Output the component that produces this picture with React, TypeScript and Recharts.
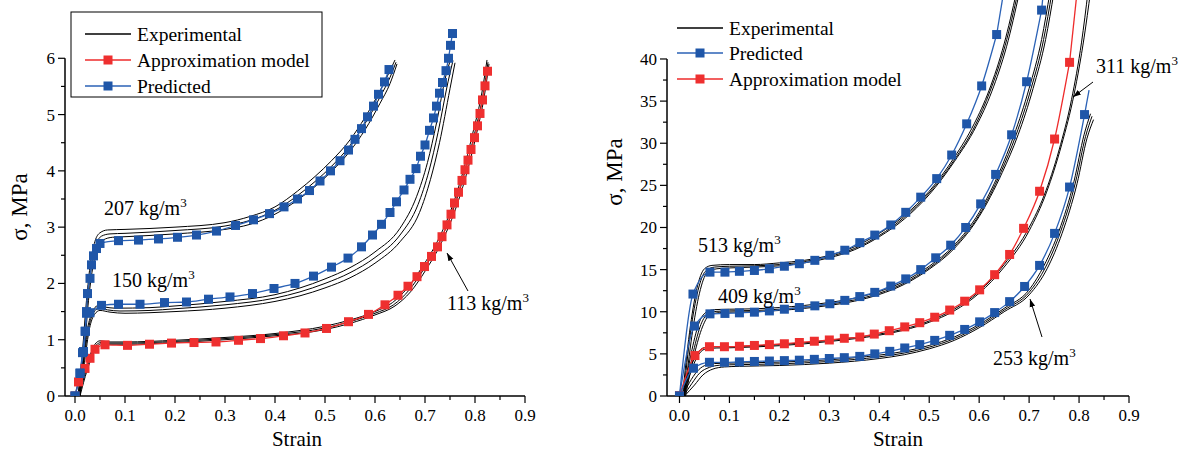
import React from "react";
import { LineChart, Line, XAxis, YAxis, ReferenceLine } from "recharts";

type P = [number, number];

// ---------- left panel: strain vs stress, low densities ----------
const pred207: P[] = [
  [0, 0], [0.01, 0.41], [0.017, 0.79], [0.021, 1.15], [0.023, 1.5], [0.025, 1.82], [0.03, 2.09],
  [0.033, 2.33], [0.037, 2.49], [0.043, 2.62], [0.05, 2.71], [0.087, 2.76], [0.127, 2.77], [0.167, 2.79],
  [0.205, 2.82], [0.243, 2.86], [0.283, 2.93], [0.321, 3.03], [0.357, 3.13], [0.389, 3.24], [0.418, 3.36],
  [0.445, 3.5], [0.469, 3.65], [0.49, 3.82], [0.511, 4.0], [0.53, 4.18], [0.547, 4.37], [0.56, 4.56],
  [0.573, 4.75], [0.585, 4.96], [0.597, 5.15], [0.607, 5.36], [0.619, 5.58], [0.628, 5.8],
];
const pred150: P[] = [
  [0, 0], [0.01, 0.4], [0.015, 0.77], [0.02, 1.15], [0.023, 1.47], [0.03, 1.48], [0.053, 1.61],
  [0.087, 1.63], [0.13, 1.63], [0.179, 1.66], [0.223, 1.67], [0.267, 1.72], [0.31, 1.76], [0.355, 1.82],
  [0.398, 1.91], [0.44, 2.0], [0.477, 2.13], [0.513, 2.29], [0.546, 2.45], [0.573, 2.65], [0.595, 2.86],
  [0.613, 3.05], [0.63, 3.26], [0.643, 3.45], [0.658, 3.66], [0.67, 3.85], [0.682, 4.04], [0.691, 4.26],
  [0.7, 4.46], [0.709, 4.72], [0.717, 4.94], [0.723, 5.15], [0.729, 5.38], [0.735, 5.57], [0.742, 5.78],
  [0.747, 6.0], [0.751, 6.23], [0.755, 6.44],
];
const approx113: P[] = [
  [0, 0], [0.007, 0.25], [0.02, 0.49], [0.03, 0.67], [0.04, 0.83], [0.06, 0.91], [0.105, 0.9],
  [0.149, 0.92], [0.193, 0.94], [0.238, 0.95], [0.282, 0.96], [0.327, 0.99], [0.371, 1.02], [0.417, 1.07],
  [0.46, 1.12], [0.503, 1.2], [0.547, 1.32], [0.587, 1.45], [0.62, 1.62], [0.646, 1.79], [0.666, 1.95],
  [0.684, 2.12], [0.699, 2.3], [0.713, 2.48], [0.725, 2.65], [0.734, 2.83], [0.744, 3.04], [0.752, 3.23],
  [0.759, 3.43], [0.767, 3.62], [0.774, 3.83], [0.78, 4.02], [0.786, 4.19], [0.792, 4.38], [0.799, 4.59],
  [0.805, 4.8], [0.81, 5.02], [0.815, 5.26], [0.82, 5.51], [0.825, 5.77],
];

const exp207a: P[] = [[0.006, 0], [0.015, 0.8], [0.022, 1.6], [0.03, 2.3], [0.04, 2.75], [0.05, 2.9], [0.065, 2.95], [0.1, 2.96], [0.2, 3.0], [0.3, 3.08], [0.35, 3.19], [0.4, 3.36], [0.445, 3.64], [0.48, 3.9], [0.513, 4.18], [0.55, 4.55], [0.58, 4.95], [0.61, 5.42], [0.63, 5.78], [0.64, 5.97]];
const exp207b: P[] = [[0.008, 0], [0.017, 0.8], [0.024, 1.6], [0.032, 2.25], [0.042, 2.68], [0.053, 2.84], [0.07, 2.88], [0.1, 2.89], [0.2, 2.94], [0.3, 3.02], [0.35, 3.12], [0.4, 3.3], [0.445, 3.56], [0.48, 3.81], [0.513, 4.08], [0.55, 4.45], [0.58, 4.84], [0.61, 5.31], [0.63, 5.66], [0.642, 5.93]];
const exp207c: P[] = [[0.01, 0], [0.019, 0.8], [0.026, 1.6], [0.034, 2.2], [0.044, 2.6], [0.056, 2.77], [0.075, 2.82], [0.1, 2.83], [0.2, 2.88], [0.3, 2.96], [0.35, 3.05], [0.4, 3.23], [0.445, 3.48], [0.48, 3.72], [0.513, 3.99], [0.55, 4.35], [0.58, 4.73], [0.61, 5.2], [0.63, 5.55], [0.644, 5.9]];

const exp150a: P[] = [[0.006, 0], [0.015, 0.6], [0.025, 1.2], [0.035, 1.5], [0.045, 1.6], [0.06, 1.58], [0.08, 1.56], [0.15, 1.57], [0.2, 1.6], [0.3, 1.68], [0.4, 1.8], [0.45, 1.92], [0.5, 2.08], [0.55, 2.28], [0.6, 2.56], [0.65, 2.98], [0.683, 3.54], [0.705, 4.15], [0.723, 4.85], [0.742, 5.7], [0.752, 6.0]];
const exp150b: P[] = [[0.008, 0], [0.017, 0.6], [0.027, 1.2], [0.037, 1.48], [0.048, 1.56], [0.065, 1.53], [0.09, 1.51], [0.15, 1.52], [0.2, 1.55], [0.3, 1.62], [0.4, 1.74], [0.45, 1.85], [0.5, 2.0], [0.55, 2.19], [0.6, 2.46], [0.65, 2.86], [0.686, 3.4], [0.708, 4.0], [0.726, 4.68], [0.746, 5.58], [0.756, 5.96]];
const exp150c: P[] = [[0.01, 0], [0.019, 0.6], [0.029, 1.2], [0.039, 1.45], [0.05, 1.52], [0.07, 1.49], [0.1, 1.47], [0.15, 1.48], [0.2, 1.5], [0.3, 1.56], [0.4, 1.68], [0.45, 1.78], [0.5, 1.92], [0.55, 2.1], [0.6, 2.36], [0.65, 2.74], [0.689, 3.26], [0.711, 3.85], [0.729, 4.5], [0.75, 5.46], [0.76, 5.92]];

const exp113a: P[] = [[0.006, 0], [0.02, 0.45], [0.03, 0.72], [0.04, 0.92], [0.05, 0.98], [0.07, 0.96], [0.1, 0.96], [0.2, 0.99], [0.3, 1.04], [0.4, 1.11], [0.5, 1.24], [0.55, 1.35], [0.6, 1.5], [0.635, 1.66], [0.665, 1.92], [0.695, 2.3], [0.725, 2.75], [0.755, 3.38], [0.775, 3.95], [0.795, 4.65], [0.815, 5.45], [0.824, 5.97]];
const exp113b: P[] = [[0.008, 0], [0.022, 0.45], [0.032, 0.72], [0.042, 0.9], [0.052, 0.95], [0.07, 0.94], [0.1, 0.94], [0.2, 0.97], [0.3, 1.02], [0.4, 1.09], [0.5, 1.21], [0.55, 1.32], [0.6, 1.47], [0.637, 1.62], [0.668, 1.88], [0.698, 2.26], [0.728, 2.72], [0.758, 3.35], [0.778, 3.92], [0.798, 4.62], [0.817, 5.4], [0.826, 5.93]];
const exp113c: P[] = [[0.01, 0], [0.024, 0.45], [0.034, 0.7], [0.044, 0.88], [0.054, 0.93], [0.07, 0.92], [0.1, 0.92], [0.2, 0.95], [0.3, 1.0], [0.4, 1.07], [0.5, 1.18], [0.55, 1.29], [0.6, 1.44], [0.64, 1.6], [0.671, 1.85], [0.701, 2.23], [0.731, 2.69], [0.761, 3.32], [0.781, 3.88], [0.801, 4.58], [0.819, 5.35], [0.828, 5.9]];

// ---------- right panel: higher densities ----------
const pred513: P[] = [
  [0, 0], [0.027, 12.1], [0.061, 14.7], [0.091, 14.7], [0.12, 14.8], [0.15, 14.9], [0.18, 15.1], [0.21, 15.4],
  [0.24, 15.7], [0.271, 16.1], [0.301, 16.7], [0.331, 17.3], [0.361, 18.2], [0.391, 19.1], [0.423, 20.3],
  [0.453, 21.8], [0.483, 23.6], [0.515, 25.8], [0.545, 28.6], [0.575, 32.3], [0.605, 36.8], [0.635, 42.9],
];
const tail513: P[] = [[0.635, 42.9], [0.652, 49]];
const pred409: P[] = [
  [0, 0], [0.03, 8.3], [0.061, 9.75], [0.091, 9.8], [0.12, 9.87], [0.15, 9.95], [0.18, 10.1], [0.21, 10.3],
  [0.24, 10.5], [0.271, 10.7], [0.301, 10.95], [0.331, 11.35], [0.361, 11.8], [0.391, 12.3], [0.423, 13.05],
  [0.453, 13.9], [0.483, 15.0], [0.513, 16.4], [0.543, 17.9], [0.573, 20.0], [0.603, 22.8], [0.633, 26.3],
  [0.665, 31.0], [0.695, 37.3], [0.725, 45.8],
];
const tail409: P[] = [[0.725, 45.8], [0.732, 50]];
const approx311: P[] = [
  [0, 0], [0.031, 4.8], [0.06, 5.85], [0.09, 5.85], [0.12, 5.9], [0.15, 6.0], [0.18, 6.1], [0.21, 6.2],
  [0.24, 6.35], [0.27, 6.5], [0.3, 6.65], [0.33, 6.85], [0.361, 7.0], [0.39, 7.35], [0.42, 7.75], [0.451, 8.2],
  [0.481, 8.7], [0.511, 9.35], [0.541, 10.2], [0.571, 11.25], [0.601, 12.6], [0.631, 14.4], [0.661, 16.8],
  [0.689, 19.9], [0.721, 24.3], [0.751, 30.5], [0.781, 39.6],
];
const tail311: P[] = [[0.781, 39.6], [0.797, 48.5]];
const pred253: P[] = [
  [0, 0], [0.028, 3.3], [0.06, 4.0], [0.09, 4.0], [0.12, 4.05], [0.15, 4.1], [0.18, 4.15], [0.21, 4.2],
  [0.24, 4.25], [0.27, 4.35], [0.3, 4.45], [0.33, 4.55], [0.361, 4.7], [0.391, 5.0], [0.421, 5.3],
  [0.451, 5.7], [0.481, 6.1], [0.511, 6.6], [0.541, 7.2], [0.571, 7.9], [0.601, 8.8], [0.631, 9.9],
  [0.661, 11.2], [0.691, 13.0], [0.721, 15.5], [0.751, 19.3], [0.781, 24.8], [0.811, 33.4],
];
const tail253: P[] = [[0.811, 33.4], [0.82, 36.3]];

const exp513a: P[] = [[0.006, 0], [0.02, 7.5], [0.035, 12.8], [0.05, 15.1], [0.065, 15.5], [0.1, 15.6], [0.15, 15.6], [0.2, 15.8], [0.25, 16.1], [0.3, 16.7], [0.35, 17.7], [0.4, 19.3], [0.45, 21.4], [0.5, 24.3], [0.55, 28.3], [0.59, 32.3], [0.62, 36.3], [0.65, 41.8], [0.675, 48]];
const exp513b: P[] = [[0.008, 0], [0.022, 7.5], [0.037, 12.5], [0.052, 14.8], [0.07, 15.3], [0.1, 15.4], [0.15, 15.45], [0.2, 15.6], [0.25, 15.95], [0.3, 16.55], [0.35, 17.5], [0.4, 19.05], [0.45, 21.2], [0.5, 24.1], [0.55, 28.0], [0.592, 32.1], [0.622, 36.2], [0.652, 41.6], [0.678, 48]];
const exp513c: P[] = [[0.01, 0], [0.025, 7.2], [0.04, 12.2], [0.055, 14.6], [0.075, 15.1], [0.1, 15.2], [0.15, 15.3], [0.2, 15.45], [0.25, 15.8], [0.3, 16.4], [0.35, 17.35], [0.4, 18.9], [0.45, 21.0], [0.5, 23.9], [0.55, 27.8], [0.594, 32.0], [0.625, 36.1], [0.655, 41.5], [0.681, 48]];

const exp409a: P[] = [[0.008, 0], [0.025, 5.5], [0.04, 8.8], [0.055, 10.0], [0.07, 10.25], [0.1, 10.3], [0.15, 10.35], [0.2, 10.5], [0.25, 10.75], [0.3, 11.1], [0.35, 11.6], [0.4, 12.4], [0.45, 13.6], [0.5, 15.4], [0.55, 17.9], [0.6, 21.8], [0.64, 26.5], [0.67, 31.0], [0.7, 36.5], [0.725, 42.3], [0.742, 48]];
const exp409b: P[] = [[0.01, 0], [0.028, 5.3], [0.043, 8.5], [0.058, 9.8], [0.075, 10.05], [0.1, 10.1], [0.15, 10.15], [0.2, 10.3], [0.25, 10.55], [0.3, 10.9], [0.35, 11.4], [0.4, 12.2], [0.45, 13.4], [0.5, 15.2], [0.55, 17.7], [0.6, 21.5], [0.643, 26.5], [0.674, 31.0], [0.704, 36.5], [0.729, 42.3], [0.746, 48]];
const exp409c: P[] = [[0.012, 0], [0.03, 5.0], [0.046, 8.2], [0.06, 9.6], [0.08, 9.9], [0.1, 9.95], [0.15, 10.0], [0.2, 10.15], [0.25, 10.4], [0.3, 10.75], [0.35, 11.25], [0.4, 12.05], [0.45, 13.25], [0.5, 15.05], [0.55, 17.5], [0.6, 21.3], [0.646, 26.5], [0.678, 31.0], [0.708, 36.5], [0.733, 42.3], [0.75, 48]];

const exp311a: P[] = [[0.006, 0], [0.02, 3.0], [0.035, 5.0], [0.05, 5.75], [0.07, 5.85], [0.1, 5.85], [0.15, 5.95], [0.2, 6.1], [0.3, 6.6], [0.4, 7.35], [0.45, 7.95], [0.5, 8.9], [0.55, 10.3], [0.6, 12.4], [0.65, 15.6], [0.7, 20.0], [0.73, 23.8], [0.76, 29.2], [0.785, 35.2], [0.805, 42.0], [0.818, 48]];
const exp311b: P[] = [[0.008, 0], [0.023, 2.9], [0.038, 4.9], [0.053, 5.6], [0.075, 5.7], [0.1, 5.72], [0.15, 5.82], [0.2, 5.97], [0.3, 6.47], [0.4, 7.22], [0.45, 7.82], [0.5, 8.75], [0.55, 10.1], [0.6, 12.2], [0.65, 15.3], [0.7, 19.6], [0.735, 24.2], [0.765, 29.8], [0.79, 35.8], [0.81, 42.5], [0.823, 48]];

const exp253a: P[] = [[0.006, 0], [0.02, 1.6], [0.035, 2.9], [0.05, 3.6], [0.07, 3.85], [0.1, 3.9], [0.15, 3.95], [0.2, 4.02], [0.3, 4.3], [0.4, 4.85], [0.45, 5.3], [0.5, 6.0], [0.55, 7.0], [0.6, 8.5], [0.65, 10.4], [0.7, 12.6], [0.73, 15.5], [0.76, 19.6], [0.79, 25.5], [0.81, 31.0], [0.823, 33.5]];
const exp253b: P[] = [[0.008, 0], [0.025, 1.5], [0.04, 2.7], [0.06, 3.4], [0.08, 3.65], [0.1, 3.7], [0.15, 3.75], [0.2, 3.82], [0.3, 4.1], [0.4, 4.65], [0.45, 5.1], [0.5, 5.8], [0.55, 6.8], [0.6, 8.3], [0.65, 10.2], [0.7, 12.3], [0.733, 15.3], [0.763, 19.5], [0.793, 25.4], [0.813, 30.8], [0.826, 33.2]];
const exp253c: P[] = [[0.01, 0], [0.03, 1.3], [0.047, 2.5], [0.067, 3.2], [0.09, 3.45], [0.12, 3.52], [0.2, 3.62], [0.3, 3.9], [0.4, 4.45], [0.45, 4.9], [0.5, 5.6], [0.55, 6.6], [0.6, 8.1], [0.65, 10.0], [0.7, 12.0], [0.736, 15.1], [0.766, 19.3], [0.796, 25.2], [0.816, 30.6], [0.829, 32.8]];

// ticks
const strainTicks = [0, 0.05, 0.1, 0.15, 0.2, 0.25, 0.3, 0.35, 0.4, 0.45, 0.5, 0.55, 0.6, 0.65, 0.7, 0.75, 0.8, 0.85, 0.9];
const leftStressTicks = [0, 0.5, 1, 1.5, 2, 2.5, 3, 3.5, 4, 4.5, 5, 5.5, 6];
const rightStressTicks = [0, 2.5, 5, 7.5, 10, 12.5, 15, 17.5, 20, 22.5, 25, 27.5, 30, 32.5, 35, 37.5, 40];

const FONT = '"Liberation Serif", "Times New Roman", serif';
const BLUE = "#1f56a8";
const BLUE_LINE = "#2b62b6";
const RED = "#ee2f2f";
const RED_LINE = "#ee2b2b";

const rows = (arr: P[]) => arr.map(([x, y]) => ({ x, y }));

const squareDot = (fill: string) => (props: any) => {
  const { cx, cy, index } = props;
  if (cx == null || cy == null) return <g key={index} />;
  return <rect key={index} x={cx - 4.5} y={cy - 4.5} width={9} height={9} fill={fill} />;
};

const XTick = (props: any) => {
  const { x, y, payload } = props;
  const v = payload.value;
  const major = Math.abs(v * 10 - Math.round(v * 10)) < 1e-6;
  return (
    <g>
      <line x1={x} y1={y} x2={x} y2={y + (major ? 7 : 4)} stroke="#000" strokeWidth={1.2} />
      {major && (
        <text x={x} y={y + 25} textAnchor="middle" fontSize={17} fontFamily={FONT} fill="#000">
          {v.toFixed(1)}
        </text>
      )}
    </g>
  );
};

const makeYTick = (step: number) => (props: any) => {
  const { x, y, payload } = props;
  const v = payload.value;
  const major = Math.abs(v / step - Math.round(v / step)) < 1e-6;
  return (
    <g>
      <line x1={x} y1={y} x2={x - (major ? 7 : 4)} y2={y} stroke="#000" strokeWidth={1.2} />
      {major && (
        <text x={x - 10} y={y + 6} textAnchor="end" fontSize={17} fontFamily={FONT} fill="#000">
          {v}
        </text>
      )}
    </g>
  );
};

const expLine = (d: P[], k: string) => (
  <Line key={k} data={rows(d)} dataKey="y" type="monotone" stroke="#000" strokeWidth={1}
    dot={false} isAnimationActive={false} />
);
const modelLine = (d: P[], k: string, line: string, fill: string) => (
  <Line key={k} data={rows(d)} dataKey="y" type="monotone" stroke={line} strokeWidth={1.3}
    dot={squareDot(fill)} isAnimationActive={false} />
);
const tailLine = (d: P[], k: string, line: string) => (
  <Line key={k} data={rows(d)} dataKey="y" type="monotone" stroke={line} strokeWidth={1.3}
    dot={false} isAnimationActive={false} />
);

function LeftPanel() {
  return (
    <LineChart width={560} height={452} margin={{ top: 2, right: 35, bottom: 0, left: 0 }}>
      <XAxis dataKey="x" type="number" domain={[-0.02, 0.9]} allowDataOverflow ticks={strainTicks}
        interval={0} tickLine={false} tickSize={0} tickMargin={0} height={56} tick={<XTick />}
        axisLine={{ stroke: "#000", strokeWidth: 1.5 }} />
      <YAxis type="number" domain={[0, 7]} allowDataOverflow ticks={leftStressTicks} interval={0}
        tickLine={false} tickSize={0} tickMargin={0} width={65} tick={makeYTick(1)} axisLine={false} />
      <ReferenceLine segment={[{ x: -0.02, y: 0 }, { x: -0.02, y: 6 }]} stroke="#000" strokeWidth={1.5} />
      {expLine(exp207a, "e207a")}
      {expLine(exp207b, "e207b")}
      {expLine(exp207c, "e207c")}
      {expLine(exp150a, "e150a")}
      {expLine(exp150b, "e150b")}
      {expLine(exp150c, "e150c")}
      {expLine(exp113a, "e113a")}
      {expLine(exp113b, "e113b")}
      {expLine(exp113c, "e113c")}
      {modelLine(approx113, "a113", RED_LINE, RED)}
      {modelLine(pred150, "p150", BLUE_LINE, BLUE)}
      {modelLine(pred207, "p207", BLUE_LINE, BLUE)}
    </LineChart>
  );
}

function RightPanel() {
  return (
    <LineChart width={602} height={452} margin={{ top: 0, right: 53, bottom: 0, left: 0 }}>
      <XAxis dataKey="x" type="number" domain={[-0.025, 0.9]} allowDataOverflow ticks={strainTicks}
        interval={0} tickLine={false} tickSize={0} tickMargin={0} height={56} tick={<XTick />}
        axisLine={{ stroke: "#000", strokeWidth: 1.5 }} />
      <YAxis type="number" domain={[0, 47]} allowDataOverflow ticks={rightStressTicks} interval={0}
        tickLine={false} tickSize={0} tickMargin={0} width={87} tick={makeYTick(5)} axisLine={false} />
      <ReferenceLine segment={[{ x: -0.025, y: 0 }, { x: -0.025, y: 40 }]} stroke="#000" strokeWidth={1.5} />
      {expLine(exp513a, "e513a")}
      {expLine(exp513b, "e513b")}
      {expLine(exp513c, "e513c")}
      {expLine(exp409a, "e409a")}
      {expLine(exp409b, "e409b")}
      {expLine(exp409c, "e409c")}
      {expLine(exp311a, "e311a")}
      {expLine(exp311b, "e311b")}
      {expLine(exp253a, "e253a")}
      {expLine(exp253b, "e253b")}
      {expLine(exp253c, "e253c")}
      {tailLine(tail513, "t513", BLUE_LINE)}
      {tailLine(tail409, "t409", BLUE_LINE)}
      {tailLine(tail311, "t311", RED_LINE)}
      {tailLine(tail253, "t253", BLUE_LINE)}
      {modelLine(pred513, "p513", BLUE_LINE, BLUE)}
      {modelLine(pred409, "p409", BLUE_LINE, BLUE)}
      {modelLine(approx311, "a311", RED_LINE, RED)}
      {modelLine(pred253, "p253", BLUE_LINE, BLUE)}
    </LineChart>
  );
}

const Density = ({ x, y, value }: { x: number; y: number; value: string }) => (
  <text x={x} y={y} fontSize={20} fontFamily={FONT} fill="#000">
    {value} kg/m<tspan dy={-8} fontSize={13}>3</tspan>
  </text>
);

const LegendRow = ({ x, y, color, fill, label }: { x: number; y: number; color: string; fill?: string; label: string }) => (
  <g>
    <line x1={x} y1={y} x2={x + 46} y2={y} stroke={color} strokeWidth={1.3} />
    {fill && <rect x={x + 18.5} y={y - 4.5} width={9} height={9} fill={fill} />}
    <text x={x + 52} y={y + 7} fontSize={19.5} fontFamily={FONT} fill="#000">{label}</text>
  </g>
);

function Overlay() {
  return (
    <svg width={1182} height={452} style={{ position: "absolute", left: 0, top: 0, pointerEvents: "none" }}>
      <defs>
        <marker id="ah" viewBox="0 0 10 10" refX="10" refY="5" markerWidth="8" markerHeight="8" orient="auto">
          <path d="M0,1.5 L10,5 L0,8.5 z" fill="#000" />
        </marker>
      </defs>
      {/* left legend */}
      <rect x={71} y={12} width={251} height={85} fill="none" stroke="#000" strokeWidth={1} />
      <LegendRow x={85} y={34} color="#000" label="Experimental" />
      <LegendRow x={85} y={60} color={RED_LINE} fill={RED} label="Approximation model" />
      <LegendRow x={85} y={86} color={BLUE_LINE} fill={BLUE} label="Predicted" />
      {/* right legend */}
      <LegendRow x={677} y={28} color="#000" label="Experimental" />
      <LegendRow x={677} y={53} color={BLUE_LINE} fill={BLUE} label="Predicted" />
      <LegendRow x={677} y={79} color={RED_LINE} fill={RED} label="Approximation model" />

      <Density x={104} y={215} value="207" />
      <Density x={112} y={287} value="150" />
      <Density x={447} y={310} value="113" />
      <line x1={468} y1={291} x2={447} y2={253} stroke="#000" strokeWidth={1} markerEnd="url(#ah)" />

      <Density x={698} y={252} value="513" />
      <Density x={718} y={303} value="409" />
      <Density x={1096} y={73} value="311" />
      <line x1={1093} y1={82} x2={1073} y2={97} stroke="#000" strokeWidth={1} markerEnd="url(#ah)" />
      <Density x={993} y={365} value="253" />
      <line x1={1042} y1={337} x2={1030} y2={299} stroke="#000" strokeWidth={1} markerEnd="url(#ah)" />

      <text transform="translate(27,207) rotate(-90)" textAnchor="middle" fontSize={23} fontFamily={FONT}>σ, MPa</text>
      <text transform="translate(622,172) rotate(-90)" textAnchor="middle" fontSize={23} fontFamily={FONT}>σ, MPa</text>
      <text x={297} y={446} textAnchor="middle" fontSize={21} fontFamily={FONT}>Strain</text>
      <text x={898} y={446} textAnchor="middle" fontSize={21} fontFamily={FONT}>Strain</text>
    </svg>
  );
}

export default function App() {
  return (
    <div style={{ position: "absolute", left: 0, top: 0, width: 1182, height: 452, background: "#fff" }}>
      <div style={{ position: "absolute", left: 0, top: 0 }}>
        <LeftPanel />
      </div>
      <div style={{ position: "absolute", left: 580, top: 0 }}>
        <RightPanel />
      </div>
      <Overlay />
    </div>
  );
}
